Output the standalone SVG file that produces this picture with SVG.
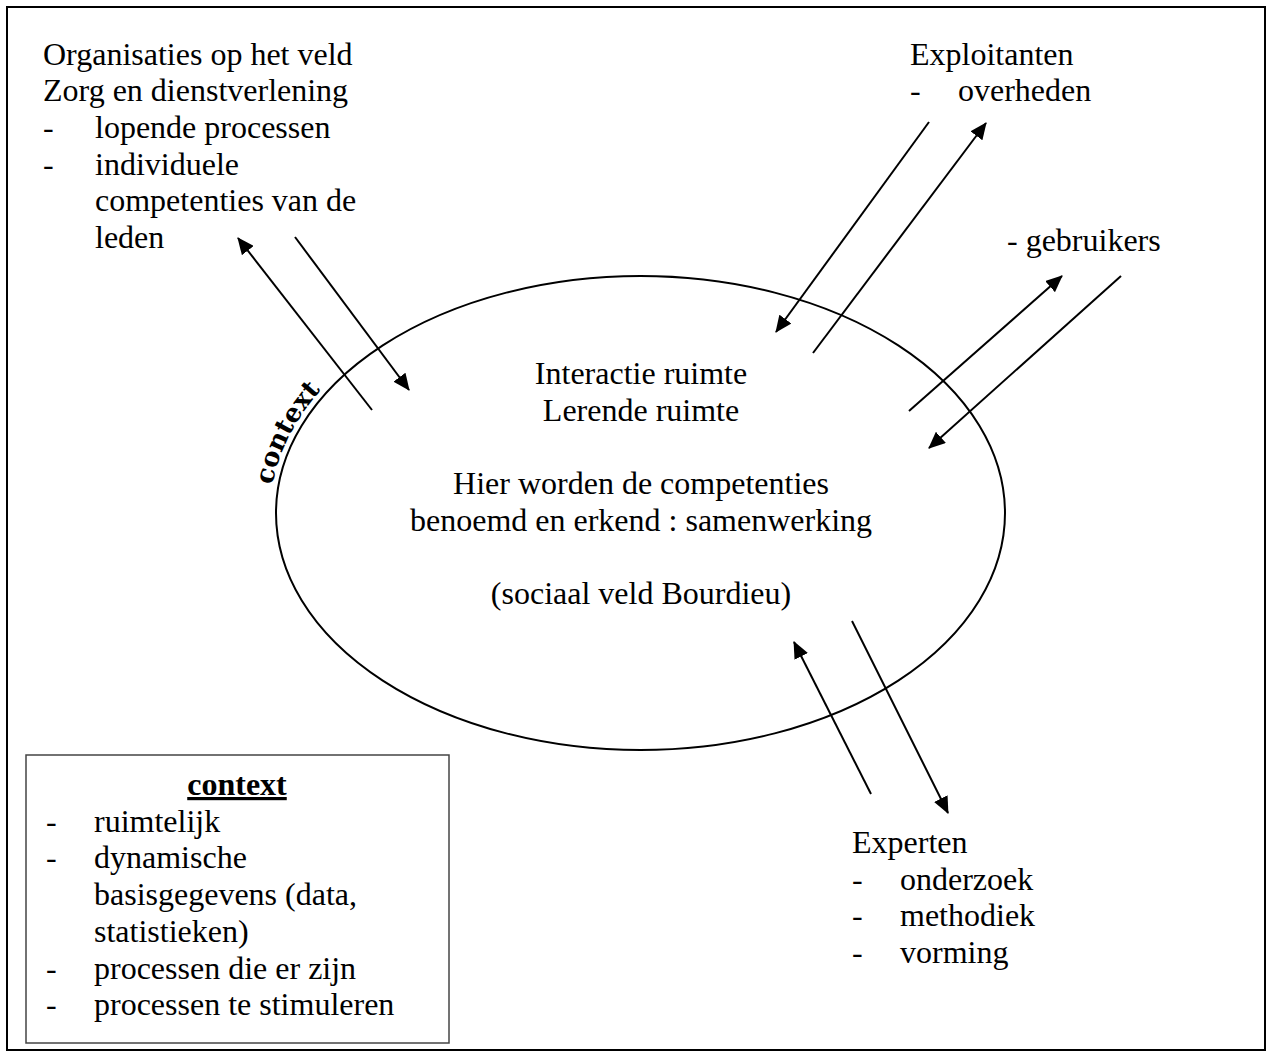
<svg xmlns="http://www.w3.org/2000/svg" width="1271" height="1058" viewBox="0 0 1271 1058">
<style>
.t{font-family:"Liberation Serif","Times New Roman",serif;font-size:32px;fill:#000}
.c{text-anchor:middle}
.ln{stroke:#000;stroke-width:2;fill:none}
</style>
<defs>
<marker id="ah" viewBox="0 0 17 15" refX="16" refY="7.5" markerWidth="17" markerHeight="15" markerUnits="userSpaceOnUse" orient="auto">
<path d="M0,0 L17,7.5 L0,15 z" fill="#000"/>
</marker>
<path id="arcPath" d="M270,513 A370.5,243 0 0 1 506.4,286.5"/>
</defs>
<rect x="0" y="0" width="1271" height="1058" fill="#fff"/>
<rect id="frame" x="7" y="7" width="1258" height="1043" fill="none" stroke="#000" stroke-width="2"/>

<g id="space">
<ellipse cx="640.5" cy="513" rx="364.5" ry="237" fill="none" stroke="#000" stroke-width="2"/>
<text class="t c" x="641" y="384">Interactie ruimte</text>
<text class="t c" x="641" y="420.7">Lerende ruimte</text>
<text class="t c" x="641" y="494">Hier worden de competenties</text>
<text class="t c" x="641" y="530.8">benoemd en erkend : samenwerking</text>
<text class="t c" x="641" y="604.2">(sociaal veld Bourdieu)</text>
<text font-family="'DejaVu Serif',serif" font-weight="bold" font-size="26"><textPath href="#arcPath" startOffset="28">context</textPath></text>
</g>

<g id="organisaties">
<text class="t" x="43" y="64.5">Organisaties op het veld</text>
<text class="t" x="43" y="101.2">Zorg en dienstverlening</text>
<text class="t" x="43" y="137.9">-</text><text class="t" x="95" y="137.9">lopende processen</text>
<text class="t" x="43" y="174.6">-</text><text class="t" x="95" y="174.6">individuele</text>
<text class="t" x="95" y="211.3">competenties van de</text>
<text class="t" x="95" y="248">leden</text>
</g>

<g id="exploitanten">
<text class="t" x="910" y="64.5">Exploitanten</text>
<text class="t" x="910" y="101.2">-</text><text class="t" x="958" y="101.2">overheden</text>
</g>

<g id="gebruikers">
<text class="t" x="1007" y="251">- gebruikers</text>
</g>

<g id="experten">
<text class="t" x="852" y="853">Experten</text>
<text class="t" x="852" y="889.7">-</text><text class="t" x="900" y="889.7">onderzoek</text>
<text class="t" x="852" y="926.4">-</text><text class="t" x="900" y="926.4">methodiek</text>
<text class="t" x="852" y="963.1">-</text><text class="t" x="900" y="963.1">vorming</text>
</g>

<g id="legend">
<rect x="26" y="755" width="423" height="288" fill="none" stroke="#444" stroke-width="1.5"/>
<text class="t c" x="237" y="795" font-weight="bold" text-decoration="underline">context</text>
<text class="t" x="46" y="831.7">-</text><text class="t" x="94" y="831.7">ruimtelijk</text>
<text class="t" x="46" y="868.4">-</text><text class="t" x="94" y="868.4">dynamische</text>
<text class="t" x="94" y="905.1">basisgegevens (data,</text>
<text class="t" x="94" y="941.8">statistieken)</text>
<text class="t" x="46" y="978.5">-</text><text class="t" x="94" y="978.5">processen die er zijn</text>
<text class="t" x="46" y="1015.2">-</text><text class="t" x="94" y="1015.2">processen te stimuleren</text>
</g>

<g id="connectors" class="ln" marker-end="url(#ah)">
<line x1="372" y1="410" x2="238" y2="238"/>
<line x1="295" y1="237" x2="409" y2="390"/>
<line x1="929" y1="122" x2="776" y2="332"/>
<line x1="813" y1="353" x2="986" y2="123"/>
<line x1="909" y1="411" x2="1062" y2="276"/>
<line x1="1121" y1="276" x2="929" y2="448"/>
<line x1="871" y1="794" x2="794" y2="642"/>
<line x1="852" y1="621" x2="948" y2="813"/>
</g>
</svg>
